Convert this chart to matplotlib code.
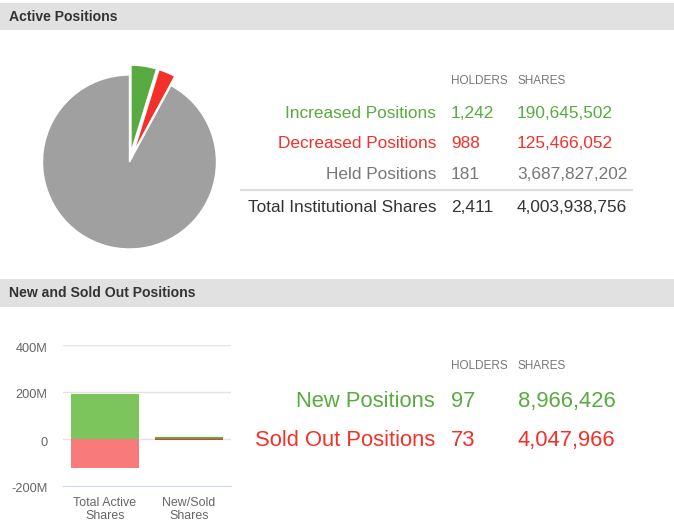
import matplotlib
matplotlib.use("Agg")
import matplotlib.pyplot as plt
from matplotlib.patches import Rectangle
from matplotlib.transforms import offset_copy

plt.rcParams['font.family'] = ['Liberation Sans', 'DejaVu Sans']

# data
active_labels = ["Increased Positions", "Decreased Positions", "Held Positions"]
active_holders = [1242, 988, 181]
active_shares = [190645502, 125466052, 3687827202]
total_label = "Total Institutional Shares"
total_holders = 2411
total_shares = 4003938756

newsold_labels = ["New Positions", "Sold Out Positions"]
newsold_holders = [97, 73]
newsold_shares = [8966426, 4047966]

bar_categories = ["Total Active\nShares", "New/Sold\nShares"]
bar_up = [active_shares[0], newsold_shares[0]]
bar_down = [-active_shares[1], -newsold_shares[1]]
y_ticks = [-200e6, 0, 200e6, 400e6]
y_tick_labels = ["-200M", "0", "200M", "400M"]

GREEN = "#58ab40"
RED = "#f3302a"
GRAY_PIE = "#a0a0a0"
GRAY_TXT = "#777777"
DARK = "#333333"

W, H = 674, 532
fig = plt.figure(figsize=(W / 100, H / 100), dpi=100)
fig.patch.set_facecolor("white")

bg = fig.add_axes([0, 0, 1, 1])

def fy(y):
    return H - y

# pie (explode is in data units = pixels here)
pie_colors = [GREEN, RED, GRAY_PIE]
bg.pie(active_shares, colors=pie_colors, startangle=90, counterclock=False,
       explode=[10, 10, 0], center=(129.5, fy(162)), radius=87,
       wedgeprops=dict(edgecolor="white", linewidth=1))
bg.set_xlim(0, W)
bg.set_ylim(0, H)
bg.set_aspect("auto")
bg.axis("off")

# section headers
for top, bot, title in [(3, 29.5, "Active Positions"), (279, 306.5, "New and Sold Out Positions")]:
    bg.add_patch(Rectangle((0, fy(bot)), W, bot - top, facecolor="#e1e1e1", edgecolor="none"))
    bg.text(9, fy(top + 18), title, fontsize=10.1, fontweight="bold", color=DARK, va="baseline")

# active table
lab_x, hold_x, shr_x = 436, 451, 517
bg.text(hold_x, fy(84), "HOLDERS", fontsize=8.5, color=GRAY_TXT, va="baseline")
bg.text(shr_x, fy(84), "SHARES", fontsize=8.5, color=GRAY_TXT, va="baseline")
row_colors = [GREEN, RED, GRAY_TXT]
for i, (lab, h, s) in enumerate(zip(active_labels, active_holders, active_shares)):
    yb = fy(117.7 + i * 30.5)
    c = row_colors[i]
    bg.text(lab_x, yb, lab, fontsize=12.4, color=c, ha="right", va="baseline")
    bg.text(hold_x, yb, f"{h:,}", fontsize=12.4, color=c, va="baseline")
    bg.text(shr_x, yb, f"{s:,}", fontsize=12.4, color=c, va="baseline")
bg.plot([241, 632], [fy(189.5), fy(189.5)], color="#dddddd", linewidth=1.6)
yb = fy(211.7)
bg.text(lab_x, yb, total_label, fontsize=12.4, color=DARK, ha="right", va="baseline")
bg.text(hold_x, yb, f"{total_holders:,}", fontsize=12.4, color=DARK, va="baseline")
bg.text(shr_x, yb, f"{total_shares:,}", fontsize=12.4, color=DARK, va="baseline")

# new / sold table
bg.text(hold_x, fy(369.3), "HOLDERS", fontsize=8.5, color=GRAY_TXT, va="baseline")
bg.text(shr_x, fy(369.3), "SHARES", fontsize=8.5, color=GRAY_TXT, va="baseline")
for i, (lab, h, s) in enumerate(zip(newsold_labels, newsold_holders, newsold_shares)):
    yb = fy(406.7 + i * 39.3)
    c = [GREEN, RED][i]
    bg.text(435, yb, lab, fontsize=15.8, color=c, ha="right", va="baseline")
    bg.text(hold_x, yb, f"{h:,}", fontsize=15.8, color=c, va="baseline")
    bg.text(518, yb, f"{s:,}", fontsize=15.8, color=c, va="baseline")

# bar chart
ax = fig.add_axes([62.7 / W, fy(486) / H, 168 / W, 141 / H])
x = range(len(bar_categories))
ax.bar(x, bar_up, width=0.81, color=["#7cc55d", GREEN], zorder=3)
ax.bar(x, bar_down, width=0.81, color=["#f87a7a", RED], zorder=3)
ax.set_xlim(-0.5, 1.5)
ax.set_ylim(-200e6, 400e6)
ax.set_yticks(y_ticks)
ax.set_yticklabels(y_tick_labels)
ax.set_xticks(list(x))
ax.set_xticklabels(bar_categories, linespacing=1.05)
for v in y_ticks[1:]:
    ax.axhline(v, color="#e3e3e3", linewidth=1, zorder=1)
for side in ["top", "right", "left"]:
    ax.spines[side].set_visible(False)
ax.spines["bottom"].set_color("#ccd6eb")
ax.tick_params(axis="y", length=0, pad=11, labelsize=9.2, labelcolor="#666666")
ax.tick_params(axis="x", length=0, pad=8, labelsize=8.9, labelcolor="#666666")
for lbl in ax.get_yticklabels():
    lbl.set_transform(offset_copy(lbl.get_transform(), fig=fig, y=-2, units="dots"))
ax.patch.set_alpha(0)

fig.savefig("out.png", dpi=100)
